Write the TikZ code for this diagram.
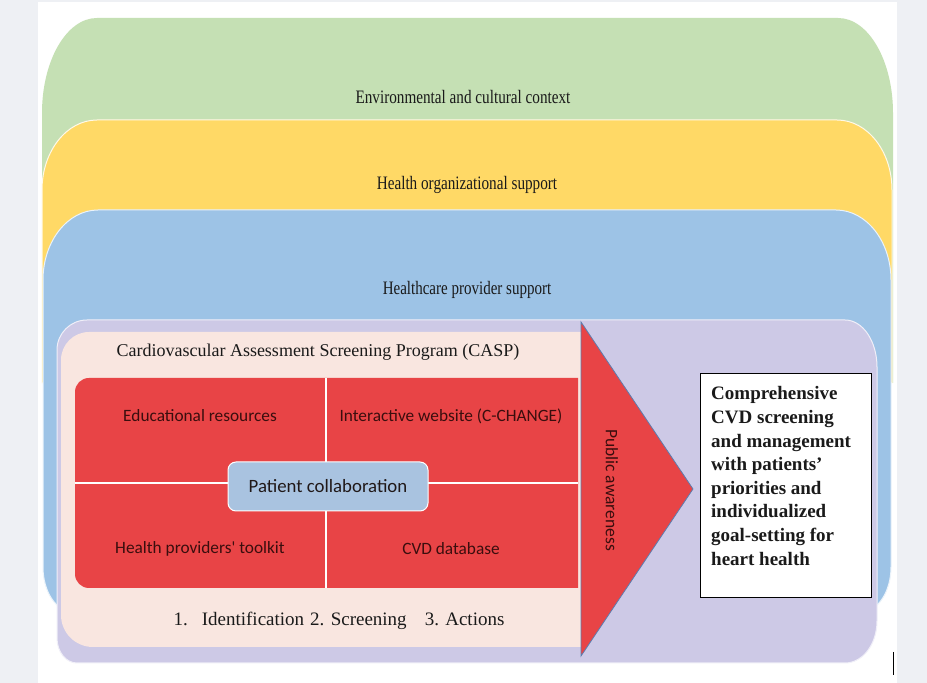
\documentclass[tikz,border=0pt]{standalone}
\usepackage{fontspec}
\usepackage{graphicx}
\setmainfont{Liberation Serif}
\newfontfamily\calib{Carlito}
\definecolor{pagegrey}{HTML}{EEF0F4}
\definecolor{envgreen}{HTML}{C5E0B4}
\definecolor{orgyellow}{HTML}{FFD966}
\definecolor{provblue}{HTML}{9DC3E6}
\definecolor{lav}{HTML}{CDC9E6}
\definecolor{cream}{HTML}{F9E6E0}
\definecolor{casred}{HTML}{E84446}
\definecolor{patblue}{HTML}{A9C3E0}
\definecolor{darkred}{HTML}{3A0E0E}
\definecolor{triedge}{HTML}{5B7DB0}
\definecolor{txt}{HTML}{1A1A1A}
\tikzset{
  layertitle/.style={text=txt, font=\fontsize{19}{22}\selectfont, inner sep=0pt},
  redlabel/.style={text=darkred, font=\calib\fontsize{17.3}{20}\selectfont, inner sep=0pt},
  serifline/.style={text=txt, font=\fontsize{18}{21}\selectfont, inner sep=0pt},
}
\begin{document}
\begin{tikzpicture}[x=1pt,y=1pt]
\useasboundingbox (0,0) rectangle (927,683);
\fill[pagegrey] (0,0) rectangle (927,683);
\fill[white] (38,0) rectangle (897,681);
% green layer
\fill[envgreen] (42,300) -- (42,570) arc[start angle=180,end angle=90,x radius=55,y radius=95]
  -- (838,665) arc[start angle=90,end angle=0,x radius=55,y radius=95] -- (893,300) -- cycle;
% yellow layer
\filldraw[orgyellow, draw=white!85!orgyellow, line width=1pt] (42,300) -- (42,493) arc[start angle=180,end angle=90,x radius=55,y radius=70]
  -- (837,563) arc[start angle=90,end angle=0,x radius=55,y radius=70] -- (892,300) -- cycle;
% blue layer
\filldraw[provblue, draw=white!80!provblue, line width=1pt] (43,116) -- (43,403) arc[start angle=180,end angle=90,x radius=55,y radius=70]
  -- (836,473) arc[start angle=90,end angle=0,x radius=55,y radius=70] -- (891,116)
  arc[start angle=0,end angle=-90,x radius=30,y radius=45] -- (73,71)
  arc[start angle=270,end angle=180,x radius=30,y radius=45] -- cycle;
% lavender
\filldraw[lav, draw=white!70!lav, line width=1pt] (57,45) -- (57,333) arc[start angle=180,end angle=90,radius=30]
  -- (845,363) arc[start angle=90,end angle=0,x radius=32,y radius=47] -- (877,62)
  arc[start angle=0,end angle=-90,x radius=32,y radius=42] -- (77,20)
  arc[start angle=270,end angle=180,x radius=20,y radius=25] -- cycle;
% cream CASP box
\fill[cream] (61,68) -- (61,323) arc[start angle=180,end angle=90,radius=28] -- (581,351) -- (581,36) -- (93,36)
  arc[start angle=270,end angle=180,radius=32] -- cycle;
% red block
\fill[casred] (75,109) -- (75,291) arc[start angle=180,end angle=90,radius=14] -- (578,305) -- (578,95) -- (89,95)
  arc[start angle=270,end angle=180,radius=14] -- cycle;
\coordinate (vtop) at (326,305);
\coordinate (vbot) at (326,95);
\coordinate (hl) at (75,200);
\coordinate (hr) at (578,200);
\draw[white, line width=1.2pt] (vtop) -- (vbot);
\draw[white, line width=1.2pt] (hl) -- (hr);
\node[draw=white, line width=1pt, fill=patblue, rounded corners=8pt, minimum width=200pt, minimum height=49pt, inner sep=0pt,
  text=txt!80!darkred, font=\calib\fontsize{18.8}{22}\selectfont] (patient) at (328,196.5) {Patient collaboration};
% triangle
\filldraw[casred, draw=triedge, line width=0.8pt] (581,361) -- (693,194) -- (581,27) -- cycle;
\node[rotate=-90, text=darkred, font=\calib\fontsize{17.5}{20}\selectfont, inner sep=0pt] (pub) at (612,193) {Public awareness};
% outcome box
\node[draw=black, line width=1pt, fill=white, minimum width=171pt, minimum height=224pt, inner sep=0pt] (outbox) at (785.5,197) {};
\node[anchor=north west, align=left, inner sep=0pt, text=txt, font=\bfseries\fontsize{19}{23.6}\selectfont] (outtext) at (711,296.5)
 {Comprehensive\\CVD screening\\and management\\with patients’\\priorities and\\individualized\\goal-setting for\\heart health};
% titles
\node[layertitle] (env) at (463,586) {\scalebox{0.80}[1]{Environmental and cultural context}};
\node[layertitle] (org) at (467,498) {\scalebox{0.80}[1]{Health organizational support}};
\node[layertitle] (prov) at (467,393) {\scalebox{0.79}[1]{Healthcare provider support}};
\node[serifline] (casp) at (318,331) {Cardiovascular Assessment Screening Program (CASP)};
\node[redlabel] (edu) at (200,267) {Educational resources};
\node[redlabel] (web) at (451,267) {Interactive website (C-CHANGE)};
\node[redlabel] (kit) at (200,134) {Health providers' toolkit};
\node[redlabel] (db) at (451,134) {CVD database};
\node[serifline, font=\fontsize{19}{22}\selectfont] (steps) at (339,62) {1.\hspace{14pt}Identification\hspace{6pt}2. Screening\hspace{18pt}3. Actions};
% stray mark
\coordinate (m1) at (893,31);
\coordinate (m2) at (893,8);
\draw[black, line width=1pt] (m1) -- (m2);
\end{tikzpicture}
\end{document}
